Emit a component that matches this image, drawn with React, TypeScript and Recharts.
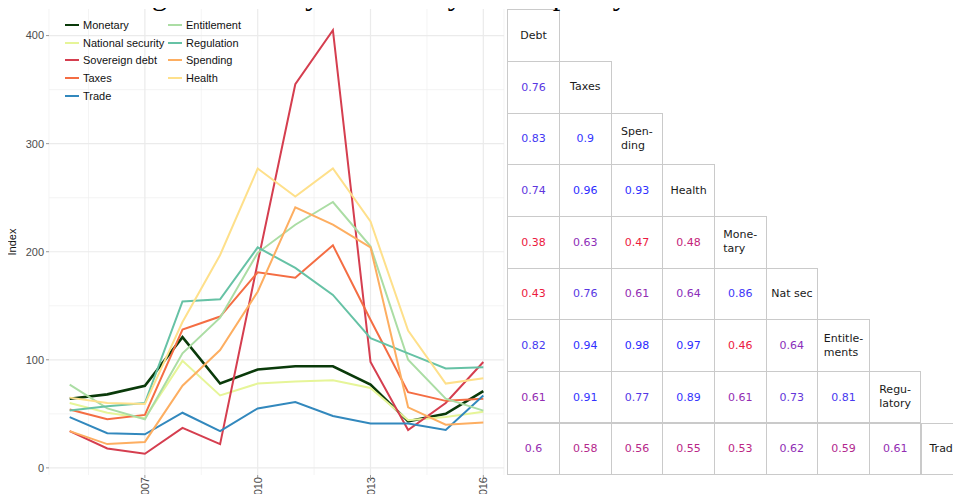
import React from 'react'
import { LineChart, Line, XAxis, YAxis, CartesianGrid } from 'recharts'

// yearly policy uncertainty index by policy class
const YEARS = [2005, 2006, 2007, 2008, 2009, 2010, 2011, 2012, 2013, 2014, 2015, 2016]
const MONETARY = [64, 68, 76, 121, 78, 91, 94, 94, 77, 43, 50, 71]
const NATIONAL_SECURITY = [60, 51, 46, 99, 67, 78, 80, 81, 74, 44, 47, 52]
const SOVEREIGN_DEBT = [34, 18, 13, 37, 22, 190, 355, 405, 98, 35, 60, 98]
const TAXES = [54, 45, 49, 128, 140, 181, 176, 206, 137, 70, 62, 64]
const TRADE = [47, 32, 31, 51, 34, 55, 61, 48, 41, 41, 35, 67]
const ENTITLEMENT = [77, 55, 45, 106, 139, 199, 225, 246, 205, 100, 64, 53]
const REGULATION = [53, 57, 60, 154, 156, 204, 185, 160, 120, 106, 92, 93]
const SPENDING = [34, 22, 24, 76, 109, 163, 241, 225, 204, 56, 40, 42]
const HEALTH = [65, 60, 59, 135, 197, 277, 251, 277, 228, 127, 78, 83]

const Y_TICKS = [0, 100, 200, 300, 400]
const X_TICKS = [2007, 2010, 2013, 2016]

// correlation table, lower triangle
const TABLE_LABELS = ['Debt', 'Taxes', 'Spen-\nding', 'Health', 'Mone-\ntary', 'Nat sec', 'Entitle-\nments', 'Regu-\nlatory', 'Trade']
const CORR_DEBT: number[] = []
const CORR_TAXES = [0.76]
const CORR_SPENDING = [0.83, 0.9]
const CORR_HEALTH = [0.74, 0.96, 0.93]
const CORR_MONETARY = [0.38, 0.63, 0.47, 0.48]
const CORR_NATSEC = [0.43, 0.76, 0.61, 0.64, 0.86]
const CORR_ENTITLEMENTS = [0.82, 0.94, 0.98, 0.97, 0.46, 0.64]
const CORR_REGULATORY = [0.61, 0.91, 0.77, 0.89, 0.61, 0.73, 0.81]
const CORR_TRADE = [0.6, 0.58, 0.56, 0.55, 0.53, 0.62, 0.59, 0.61]
const CORR_ROWS = [CORR_DEBT, CORR_TAXES, CORR_SPENDING, CORR_HEALTH, CORR_MONETARY, CORR_NATSEC, CORR_ENTITLEMENTS, CORR_REGULATORY, CORR_TRADE]

const SERIES = [
  { key: 'monetary', name: 'Monetary', values: MONETARY, color: '#0a3a0a', width: 2.6 },
  { key: 'natsec', name: 'National security', values: NATIONAL_SECURITY, color: '#e6f598', width: 2 },
  { key: 'debt', name: 'Sovereign debt', values: SOVEREIGN_DEBT, color: '#d53e4f', width: 2 },
  { key: 'taxes', name: 'Taxes', values: TAXES, color: '#f46d43', width: 2 },
  { key: 'trade', name: 'Trade', values: TRADE, color: '#3288bd', width: 2 },
  { key: 'entitlement', name: 'Entitlement', values: ENTITLEMENT, color: '#abdda4', width: 2 },
  { key: 'regulation', name: 'Regulation', values: REGULATION, color: '#66c2a5', width: 2 },
  { key: 'spending', name: 'Spending', values: SPENDING, color: '#fdae61', width: 2 },
  { key: 'health', name: 'Health', values: HEALTH, color: '#fee08b', width: 2 },
]

const data = YEARS.map((year, i) => {
  const row: Record<string, number> = { year }
  SERIES.forEach((s) => {
    row[s.key] = s.values[i]
  })
  return row
})

const SANS = '"Liberation Sans", Arial, sans-serif'
const CELL = 51.65
const TABLE_X = 507.3
const TABLE_Y = 9.3

// red (weak) -> purple -> blue (strong)
const COLOR_STOPS: [number, number[]][] = [
  [0.47, [236, 26, 62]],
  [0.48, [196, 36, 122]],
  [0.59, [178, 40, 142]],
  [0.6, [150, 44, 176]],
  [0.65, [136, 46, 188]],
  [0.74, [96, 54, 222]],
  [0.8, [74, 58, 238]],
  [0.9, [52, 52, 255]],
  [1, [40, 40, 255]],
]

function valueColor(v: number) {
  if (v <= COLOR_STOPS[0][0]) return `rgb(${COLOR_STOPS[0][1].join(',')})`
  for (let i = 1; i < COLOR_STOPS.length; i++) {
    const [v1, c1] = COLOR_STOPS[i]
    const [v0, c0] = COLOR_STOPS[i - 1]
    if (v <= v1) {
      const t = (v - v0) / (v1 - v0)
      const c = c0.map((a, k) => Math.round(a + (c1[k] - a) * t))
      return `rgb(${c.join(',')})`
    }
  }
  return 'rgb(40,40,255)'
}

function LegendBox() {
  const cols = [SERIES.slice(0, 5), SERIES.slice(5)]
  return (
    <div style={{ position: 'absolute', left: 62, top: 16, display: 'flex', fontFamily: SANS, fontSize: 11, color: '#111' }}>
      {cols.map((col, ci) => (
        <div key={ci} style={{ width: ci === 0 ? 103 : 100 }}>
          {col.map((s) => (
            <div key={s.key} style={{ display: 'flex', alignItems: 'center', height: 17.8 }}>
              <span style={{ display: 'inline-block', width: 14, height: 2, background: s.color, marginLeft: 3, marginRight: 4 }} />
              <span style={{ whiteSpace: 'nowrap' }}>{s.name}</span>
            </div>
          ))}
        </div>
      ))}
    </div>
  )
}

function YearTick(props: any) {
  const { x, y, payload } = props
  return (
    <text
      transform={`translate(${x + 4},${y - 3}) rotate(-90)`}
      textAnchor="end"
      fontSize={11}
      fontFamily={SANS}
      fill="#4d4d4d"
    >
      {payload.value}
    </text>
  )
}

function IndexLabel(props: any) {
  const vb = props.viewBox || { y: 9, height: 466 }
  return (
    <text
      transform={`translate(16,${vb.y + vb.height / 2}) rotate(-90)`}
      textAnchor="middle"
      fontSize={11}
      fontFamily={SANS}
      fill="#111"
    >
      Index
    </text>
  )
}

function CorrTable() {
  const cells: React.ReactNode[] = []
  CORR_ROWS.forEach((row, i) => {
    row.forEach((v, j) => {
      cells.push(
        <div
          key={`${i}-${j}`}
          style={{
            position: 'absolute',
            left: TABLE_X + j * CELL,
            top: TABLE_Y + i * CELL,
            width: CELL + 1,
            height: CELL + 1,
            boxSizing: 'border-box',
            border: '1px solid #cacaca',
            display: 'flex',
            alignItems: 'center',
            justifyContent: 'center',
            color: valueColor(v),
          }}
        >
          {v}
        </div>,
      )
    })
    const last = i === TABLE_LABELS.length - 1
    cells.push(
      <div
        key={`label-${i}`}
        style={{
          position: 'absolute',
          left: TABLE_X + i * CELL,
          top: TABLE_Y + i * CELL,
          width: CELL + 1,
          height: CELL + 1,
          boxSizing: 'border-box',
          border: '1px solid #cacaca',
          borderRight: last ? 'none' : '1px solid #cacaca',
          display: 'flex',
          alignItems: 'center',
          justifyContent: last ? 'flex-start' : 'center',
          paddingLeft: last ? 8 : 0,
          color: '#1a1a1a',
        }}
      >
        <div style={{ textAlign: 'left', lineHeight: '14px', whiteSpace: 'pre' }}>{TABLE_LABELS[i]}</div>
      </div>,
    )
  })
  return (
    <div style={{ position: 'absolute', left: 0, top: 0, width: 961, height: 502, fontFamily: '"DejaVu Sans", sans-serif', fontSize: 11 }}>
      {cells}
    </div>
  )
}

export default function App() {
  return (
    <div style={{ position: 'relative', width: 961, height: 502, margin: -8, overflow: 'hidden', background: '#fff' }}>
      <div style={{ position: 'absolute', left: 0, top: 0 }}>
        <LineChart width={506} height={502} data={data} margin={{ top: 9, right: 2, left: 0, bottom: 0 }}>
          <CartesianGrid
            stroke="#efefef"
            strokeWidth={0.7}
            horizontalValues={[50, 150, 250, 350]}
            verticalValues={[2004.45, 2005.5, 2008.5, 2011.5, 2014.5, 2016.55]}
          />
          <CartesianGrid stroke="#ebebeb" strokeWidth={1.2} horizontalValues={Y_TICKS} verticalValues={X_TICKS} />
          <XAxis
            dataKey="year"
            type="number"
            domain={[2004.45, 2016.55]}
            ticks={X_TICKS}
            allowDataOverflow
            height={27}
            tickSize={3}
            axisLine={false}
            tickLine={{ stroke: '#9a9a9a' }}
            tick={<YearTick />}
            interval={0}
          />
          <YAxis
            type="number"
            domain={[-6.6, 424.6]}
            ticks={Y_TICKS}
            allowDataOverflow
            width={49}
            tickSize={3}
            tickMargin={2}
            axisLine={false}
            tickLine={{ stroke: '#9a9a9a' }}
            tick={{ fontSize: 11, fill: '#4d4d4d', fontFamily: SANS }}
            label={<IndexLabel />}
          />
          {SERIES.map((s) => (
            <Line
              key={s.key}
              dataKey={s.key}
              name={s.name}
              stroke={s.color}
              strokeWidth={s.width}
              dot={false}
              activeDot={false}
              isAnimationActive={false}
              strokeLinejoin="miter"
            />
          ))}
        </LineChart>
      </div>
      <LegendBox />
      <CorrTable />
      <svg width={961} height={30} style={{ position: 'absolute', left: 0, top: 0, zIndex: 10 }}>
        <text x={127} y={4.5} fontFamily="Liberation Serif, serif" fontSize={30} fill="#000">
          Figure 2: Policy uncertainty across policy classes
        </text>
      </svg>
    </div>
  )
}
